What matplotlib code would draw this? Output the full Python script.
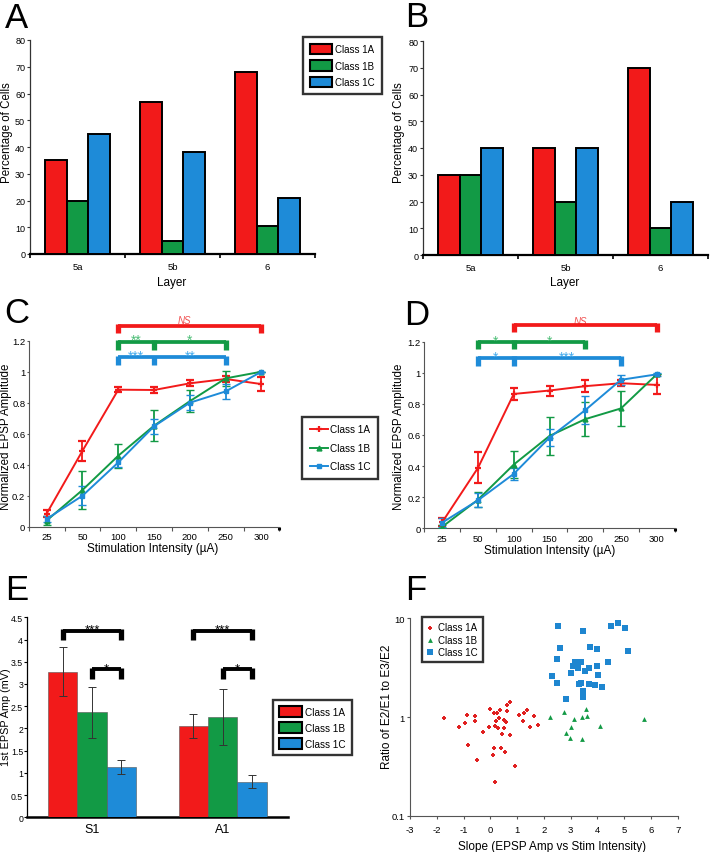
import matplotlib
matplotlib.use('Agg')
import matplotlib.pyplot as plt
import numpy as np
from matplotlib.patches import Patch
from matplotlib.lines import Line2D

plt.rcParams['font.family'] = ['Liberation Sans', 'DejaVu Sans']

# ---------------- data ----------------
layers = ['5a', '5b', '6']
classes = ['Class 1A', 'Class 1B', 'Class 1C']

pctA_1A = [35, 57, 68]
pctA_1B = [20, 5, 10.5]
pctA_1C = [45, 38, 21]

pctB_1A = [30, 40, 70]
pctB_1B = [30, 20, 10]
pctB_1C = [40, 40, 20]

stim = ['25', '50', '100', '150', '200', '250', '300']

C_1A = [0.085, 0.49, 0.884, 0.882, 0.925, 0.953, 0.92]
C_1A_err = [0.025, 0.065, 0.018, 0.018, 0.02, 0.02, 0.046]
C_1B = [0.04, 0.237, 0.458, 0.652, 0.81, 0.957, 1.0]
C_1B_err = [0.03, 0.12, 0.078, 0.10, 0.07, 0.05, 0.0]
C_1C = [0.05, 0.20, 0.415, 0.648, 0.80, 0.873, 1.0]
C_1C_err = [0.02, 0.06, 0.03, 0.05, 0.05, 0.05, 0.0]

D_1A = [0.04, 0.389, 0.864, 0.886, 0.914, 0.933, 0.922]
D_1A_err = [0.025, 0.10, 0.04, 0.032, 0.037, 0.02, 0.06]
D_1B = [0.01, 0.184, 0.41, 0.594, 0.702, 0.771, 0.99]
D_1B_err = [0.01, 0.05, 0.085, 0.12, 0.11, 0.115, 0.0]
D_1C = [0.037, 0.18, 0.35, 0.583, 0.76, 0.955, 0.99]
D_1C_err = [0.03, 0.045, 0.04, 0.055, 0.09, 0.033, 0.01]

regions = ['S1', 'A1']
E_1A = [3.28, 2.05]
E_1A_err = [0.55, 0.27]
E_1B = [2.36, 2.25]
E_1B_err = [0.57, 0.63]
E_1C = [1.13, 0.80]
E_1C_err = [0.16, 0.15]

F_1A_x = [-1.73, -1.18, -0.94, -0.86, -0.57, -0.56, -0.27, -0.83, -0.50, -0.06,
          0.0, 0.12, 0.17, 0.25, 0.21, 0.29, 0.35, 0.31, 0.52, 0.57,
          0.53, 0.42, 0.61, 0.73, 0.63, 0.75, 0.15, 0.39, 0.09, 0.56,
          0.92, 0.17, 1.07, 1.21, 1.27, 1.37, 1.49, 1.64, 1.78]
F_1A_y = [0.98, 0.785, 0.86, 1.06, 1.02, 0.92, 0.70, 0.515, 0.363, 0.80,
          1.2, 1.1, 0.82, 1.1, 0.92, 0.77, 1.19, 0.98, 0.94, 0.88,
          0.77, 0.67, 1.33, 1.43, 1.15, 0.66, 0.485, 0.485, 0.41, 0.44,
          0.32, 0.22, 1.06, 0.92, 1.09, 1.19, 0.785, 1.03, 0.83]

F_1B_x = [2.23, 2.75, 3.56, 3.63, 3.41, 3.14, 3.02, 4.08, 2.84, 2.96, 3.42, 5.73]
F_1B_y = [1.0, 1.13, 1.2, 1.02, 0.99, 0.95, 0.80, 0.82, 0.69, 0.61, 0.60, 0.95]

F_1C_x = [2.51, 3.46, 4.51, 4.76, 5.04, 2.59, 3.73, 4.0, 5.15, 2.49,
          3.17, 3.40, 4.39, 3.10, 3.97, 3.27, 3.70, 3.52, 3.01, 4.04,
          2.30, 2.49, 3.31, 3.40, 3.68, 3.92, 4.18, 3.48, 3.48, 2.84]
F_1C_y = [8.4, 7.5, 8.36, 8.9, 7.9, 5.0, 5.1, 4.9, 4.67, 3.87,
          3.6, 3.57, 3.57, 3.31, 3.31, 3.11, 3.11, 2.95, 2.81, 2.69,
          2.62, 2.21, 2.14, 2.23, 2.14, 2.09, 2.03, 1.85, 1.61, 1.52]

# ---------------- styling ----------------
RED = '#F21A1A'
GREEN = '#129A45'
BLUE = '#1E8BD8'
colors = [RED, GREEN, BLUE]

W, H = 711, 853
fig = plt.figure(figsize=(W / 100, H / 100), dpi=100)


def rect(l, t, r, b):
    return [l / W, 1 - b / H, (r - l) / W, (b - t) / H]


def fpt(x, y):
    return (x / W, 1 - y / H)


def panel_letter(ch, x, y):
    fig.text(x / W, 1 - y / H, ch, fontsize=25, ha='left', va='baseline')


def set_xlabel_at(ax, text, x, y, size):
    ax.set_xlabel(text, fontsize=size)
    ax.xaxis.set_label_coords(x / W, 1 - y / H, transform=fig.transFigure)
    ax.xaxis.label.set_va('center')


def set_ylabel_at(ax, text, x, y, size):
    ax.set_ylabel(text, fontsize=size)
    ax.yaxis.set_label_coords(x / W, 1 - y / H, transform=fig.transFigure)
    ax.yaxis.label.set_va('center')


def style_legend(leg):
    leg.get_frame().set_edgecolor('black')
    leg.get_frame().set_linewidth(1.7)


# ---------------- A & B ----------------
def bar_panel(ax, vals):
    x = np.arange(len(layers))
    w = 0.226
    for k, (v, c) in enumerate(zip(vals, colors)):
        ax.bar(x + (k - 1) * w, v, w, color=c, edgecolor='black', linewidth=1.4, zorder=3)
    ax.set_xlim(-0.5, 2.5)
    ax.set_ylim(0, 80)
    ax.set_yticks(range(0, 81, 10))
    ax.set_xticks(x)
    ax.set_xticklabels(layers)
    ax.set_xticks([-0.5, 0.5, 1.5, 2.5], minor=True)
    ax.tick_params(axis='x', which='major', length=0, labelsize=6.8, pad=6)
    ax.tick_params(axis='x', which='minor', length=3, width=1.2)
    ax.tick_params(axis='y', length=2.5, width=0.8, labelsize=6.5, pad=1.0, color='#333')
    for s in ['top', 'right']:
        ax.spines[s].set_visible(False)
    ax.spines['left'].set_linewidth(0.9)
    ax.spines['left'].set_color('#333')
    ax.spines['bottom'].set_linewidth(1.6)


axA = fig.add_axes(rect(30, 41, 315, 255))
bar_panel(axA, [pctA_1A, pctA_1B, pctA_1C])
set_ylabel_at(axA, 'Percentage of Cells', 7, 133, 8.3)
set_xlabel_at(axA, 'Layer', 172, 283, 8.5)

axB = fig.add_axes(rect(423, 42, 708, 256))
bar_panel(axB, [pctB_1A, pctB_1B, pctB_1C])
set_ylabel_at(axB, 'Percentage of Cells', 399, 133, 8.3)
set_xlabel_at(axB, 'Layer', 565, 283, 8.5)

handles_patch = [Patch(facecolor=c, edgecolor='black', linewidth=1.5) for c in colors]
legA = axA.legend(handles_patch, classes, loc='upper left', bbox_to_anchor=fpt(303, 38),
                  bbox_transform=fig.transFigure, fontsize=7, frameon=True, fancybox=False,
                  handlelength=2.3, handleheight=1.3, handletextpad=0.3, labelspacing=0.6,
                  borderpad=0.7, borderaxespad=0)
style_legend(legA)

panel_letter('A', 5, 28)
panel_letter('B', 405, 27)


# ---------------- C & D ----------------
def bracket(ax, xs, y_top, y_leg, color, lw=2.7, leg_lw=3.8):
    ax.plot([xs[0], xs[-1]], [y_top, y_top], color=color, lw=lw, clip_on=False,
            solid_capstyle='butt', zorder=5)
    for xv in xs:
        ax.plot([xv, xv], [y_top + 0.01, y_leg], color=color, lw=leg_lw, clip_on=False,
                solid_capstyle='butt', zorder=5)


def line_panel(ax, series, brackets, ns_x):
    x = np.arange(len(stim))
    styles = [('+', 5, 1.6), ('^', 3.5, 1.0), ('s', 3.5, 1.0)]
    for (y, e), c, (m, ms, mew) in zip(series, colors, styles):
        ax.errorbar(x, y, yerr=e, color=c, marker=m, ms=ms, mew=mew, lw=1.4,
                    elinewidth=1.3, capsize=2.6, capthick=1.3, zorder=3)
    ax.set_xlim(-0.5, 6.5)
    ax.set_ylim(0, 1.2)
    ax.set_yticks([0, 0.2, 0.4, 0.6, 0.8, 1.0, 1.2])
    ax.set_yticklabels(['0', '0.2', '0.4', '0.6', '0.8', '1', '1.2'])
    ax.set_xticks(x)
    ax.set_xticklabels(stim)
    ax.set_xticks(np.arange(-0.5, 7.0, 1.0), minor=True)
    ax.tick_params(axis='x', which='major', length=0, labelsize=6.8, pad=4)
    ax.tick_params(axis='x', which='minor', length=3, width=0.8, color='#555')
    ax.tick_params(axis='y', length=1.5, width=0.8, labelsize=6.8, pad=1.0, color='#555')
    for s in ['top', 'right']:
        ax.spines[s].set_visible(False)
    for s in ['left', 'bottom']:
        ax.spines[s].set_linewidth(0.8)
        ax.spines[s].set_color('#555')
    ax.plot([6.5, 6.5], [0, -0.02], color='black', lw=2.2, clip_on=False, solid_capstyle='butt')
    for xs, y_top, y_leg, color, stars in brackets:
        bracket(ax, xs, y_top, y_leg, color)
        tc = '#4CBE76' if color == GREEN else ('#45ABEC' if color == BLUE else '#F05050')
        for (a, b), st in zip(zip(xs[:-1], xs[1:]), stars):
            ax.text((a + b) / 2, y_top - 0.017, st, color=tc, fontsize=10, ha='center',
                    va='baseline', clip_on=False, zorder=6)
    ax.text(ns_x, 1.335, 'NS', color='#F05050', fontsize=7, style='italic',
            ha='center', va='center')


axC = fig.add_axes(rect(28.8, 341.7, 279.4, 527.7))
line_panel(axC, [(C_1A, C_1A_err), (C_1B, C_1B_err), (C_1C, C_1C_err)],
           [([2, 6], 1.297, 1.25, RED, ['']),
            ([2, 3, 5], 1.194, 1.142, GREEN, ['**', '*']),
            ([2, 3, 5], 1.093, 1.043, BLUE, ['***', '**'])], 3.86)
set_ylabel_at(axC, 'Normalized EPSP Amplitude', 6, 437, 8.3)
set_xlabel_at(axC, 'Stimulation Intensity (\u00b5A)', 153, 549, 8.5)

axD = fig.add_axes(rect(424.4, 342.7, 674.6, 529.3))
line_panel(axD, [(D_1A, D_1A_err), (D_1B, D_1B_err), (D_1C, D_1C_err)],
           [([2, 6], 1.31, 1.26, RED, ['']),
            ([1, 2, 4], 1.20, 1.15, GREEN, ['*', '*']),
            ([1, 2, 5], 1.095, 1.046, BLUE, ['*', '***'])], 3.86)
set_ylabel_at(axD, 'Normalized EPSP Amplitude', 399, 437, 8.3)
set_xlabel_at(axD, 'Stimulation Intensity (\u00b5A)', 550, 551, 8.5)

line_handles = [Line2D([], [], color=RED, marker='+', ms=5, mew=1.6, lw=1.4),
                Line2D([], [], color=GREEN, marker='^', ms=3.5, lw=1.4),
                Line2D([], [], color=BLUE, marker='s', ms=3.5, lw=1.4)]
legC = axC.legend(line_handles, classes, loc='upper left', bbox_to_anchor=fpt(302, 418),
                  bbox_transform=fig.transFigure, fontsize=7.2, frameon=True, fancybox=False,
                  handlelength=1.8, handletextpad=0.25, labelspacing=0.85,
                  borderpad=0.75, borderaxespad=0)
style_legend(legC)

panel_letter('C', 4, 323)
panel_letter('D', 404, 325)

# ---------------- E ----------------
axE = fig.add_axes(rect(26.7, 618.3, 288, 818.3))
xE = np.arange(len(regions))
wE = 0.225
ekw = dict(ecolor='#333333', elinewidth=0.7, capsize=3, capthick=0.7)
for k, (v, e, c) in enumerate(zip([E_1A, E_1B, E_1C], [E_1A_err, E_1B_err, E_1C_err], colors)):
    axE.bar(xE + (k - 1) * wE, v, wE, yerr=e, color=c, edgecolor='#555555', linewidth=0.4,
            error_kw=ekw, zorder=3)
axE.set_xlim(-0.5, 1.5)
axE.set_ylim(0, 4.5)
axE.set_yticks(np.arange(0, 4.51, 0.5))
axE.set_yticklabels(['0', '0.5', '1', '1.5', '2', '2.5', '3', '3.5', '4', '4.5'])
axE.set_xticks(xE)
axE.set_xticklabels(regions)
axE.tick_params(axis='x', length=0, labelsize=9, pad=4)
axE.tick_params(axis='y', length=2, width=0.8, labelsize=6.3, pad=0.6)
for s in ['top', 'right']:
    axE.spines[s].set_visible(False)
axE.spines['left'].set_linewidth(0.9)
axE.spines['bottom'].set_linewidth(1.8)
set_ylabel_at(axE, '1st EPSP Amp (mV)', 6, 717, 7.8)

for g in xE:
    for (i1, i2), y_top, y_leg, st in [((0, 2), 4.2, 3.98, '***'), ((1, 2), 3.34, 3.11, '*')]:
        x1 = g + (i1 - 1) * wE
        x2 = g + (i2 - 1) * wE
        axE.plot([x1, x2], [y_top, y_top], color='black', lw=2.8, solid_capstyle='butt', zorder=5)
        for xv in (x1, x2):
            axE.plot([xv, xv], [y_top + 0.03, y_leg], color='black', lw=3.8,
                     solid_capstyle='butt', zorder=5)
        axE.text((x1 + x2) / 2, y_top - 0.05, st, fontsize=9.5, ha='center', va='baseline',
                 zorder=6)

legE = axE.legend(handles_patch, classes, loc='upper left', bbox_to_anchor=fpt(273, 701),
                  bbox_transform=fig.transFigure, fontsize=7.2, frameon=True, fancybox=False,
                  handlelength=2.3, handleheight=1.3, handletextpad=0.3, labelspacing=0.5,
                  borderpad=0.6, borderaxespad=0)
style_legend(legE)

panel_letter('E', 5, 600)

# ---------------- F ----------------
axF = fig.add_axes(rect(410, 619.3, 677.7, 816.7))
axF.scatter(F_1A_x, F_1A_y, marker='P', s=11, color='#E02020', linewidths=0, label=classes[0], zorder=3)
axF.scatter(F_1B_x, F_1B_y, marker='^', s=12, color='#139A45', linewidths=0, label=classes[1], zorder=3)
axF.scatter(F_1C_x, F_1C_y, marker='s', s=16, color='#1E86D0', linewidths=0, label=classes[2], zorder=3)
axF.set_yscale('log')
axF.set_ylim(0.1, 10)
axF.set_xlim(-3, 7)
axF.set_yticks([0.1, 1, 10])
axF.set_yticklabels(['0.1', '1', '10'])
axF.yaxis.set_minor_locator(plt.NullLocator())
axF.set_xticks(range(-3, 8))
axF.set_xticklabels([str(v) for v in range(-3, 8)])
axF.tick_params(axis='both', length=2.5, width=0.8, labelsize=6.8, color='#555')
axF.tick_params(axis='x', pad=4)
axF.tick_params(axis='y', pad=1.5)
for s in ['top', 'right']:
    axF.spines[s].set_visible(False)
for s in ['left', 'bottom']:
    axF.spines[s].set_linewidth(0.8)
    axF.spines[s].set_color('#555')
set_ylabel_at(axF, 'Ratio of E2/E1 to E3/E2', 387, 707, 8.5)
set_xlabel_at(axF, 'Slope (EPSP Amp vs Stim Intensity)', 552, 847, 8.5)
legF = axF.legend(loc='upper left', bbox_to_anchor=fpt(421.7, 618.3),
                  bbox_transform=fig.transFigure, fontsize=7, frameon=True, fancybox=False,
                  handlelength=0.8, handletextpad=0.4, labelspacing=0.25,
                  borderpad=0.5, borderaxespad=0, scatterpoints=1)
style_legend(legF)

panel_letter('F', 405, 600)

fig.savefig('out.png', dpi=100)
